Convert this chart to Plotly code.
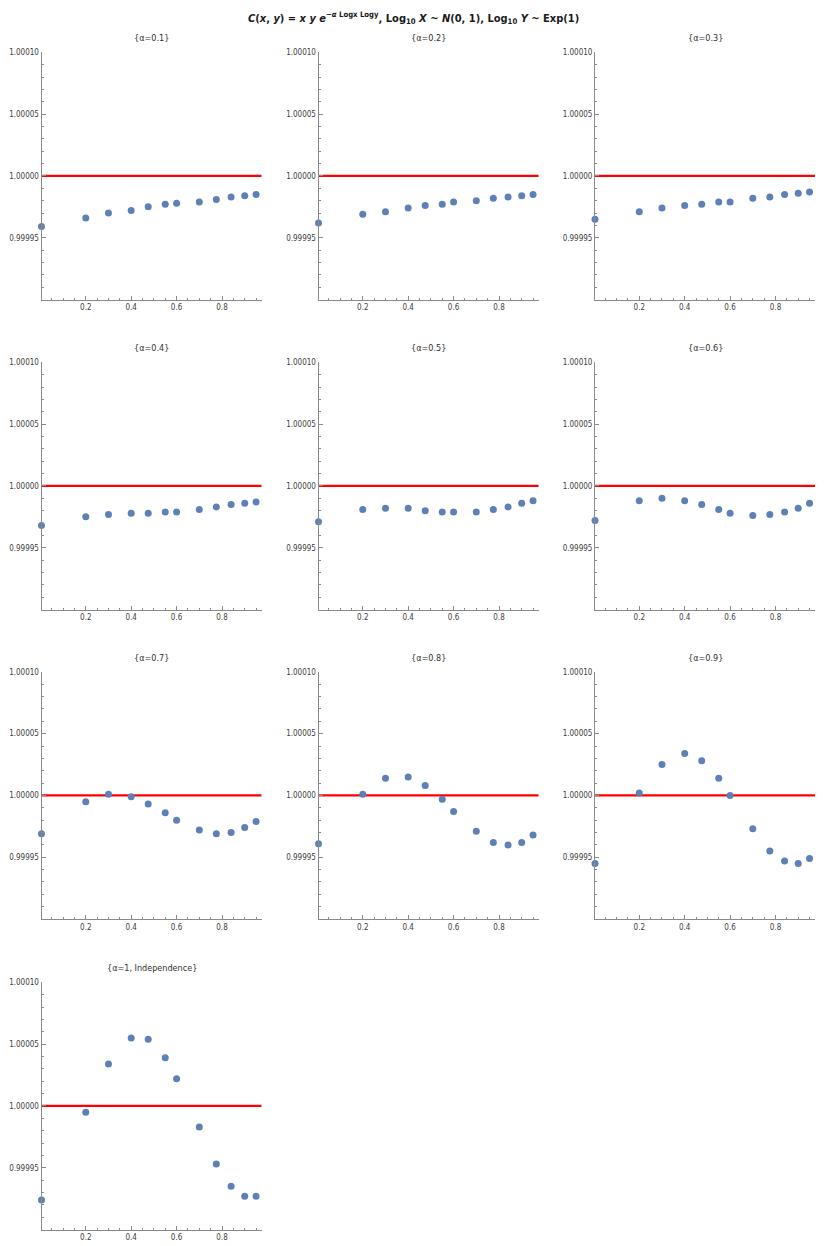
import plotly.graph_objects as go

# ---- data ----
x_levels = [0.005, 0.2, 0.3, 0.4, 0.475, 0.55, 0.6, 0.7, 0.775, 0.84, 0.9, 0.95]

panel_titles = ["{α=0.1}", "{α=0.2}", "{α=0.3}",
                "{α=0.4}", "{α=0.5}", "{α=0.6}",
                "{α=0.7}", "{α=0.8}", "{α=0.9}",
                "{α=1, Independence}"]

c_a01 = [0.999959, 0.999966, 0.999970, 0.999972, 0.999975, 0.999977, 0.999978, 0.999979, 0.999981, 0.999983, 0.999984, 0.999985]
c_a02 = [0.999962, 0.999969, 0.999971, 0.999974, 0.999976, 0.999977, 0.999979, 0.999980, 0.999982, 0.999983, 0.999984, 0.999985]
c_a03 = [0.999965, 0.999971, 0.999974, 0.999976, 0.999977, 0.999979, 0.999979, 0.999982, 0.999983, 0.999985, 0.999986, 0.999987]
c_a04 = [0.999968, 0.999975, 0.999977, 0.999978, 0.999978, 0.999979, 0.999979, 0.999981, 0.999983, 0.999985, 0.999986, 0.999987]
c_a05 = [0.999971, 0.999981, 0.999982, 0.999982, 0.999980, 0.999979, 0.999979, 0.999979, 0.999981, 0.999983, 0.999986, 0.999988]
c_a06 = [0.999972, 0.999988, 0.999990, 0.999988, 0.999985, 0.999981, 0.999978, 0.999976, 0.999977, 0.999979, 0.999982, 0.999986]
c_a07 = [0.999969, 0.999995, 1.000001, 0.999999, 0.999993, 0.999986, 0.999980, 0.999972, 0.999969, 0.999970, 0.999974, 0.999979]
c_a08 = [0.999961, 1.000001, 1.000014, 1.000015, 1.000008, 0.999997, 0.999987, 0.999971, 0.999962, 0.999960, 0.999962, 0.999968]
c_a09 = [0.999945, 1.000002, 1.000025, 1.000034, 1.000028, 1.000014, 1.000000, 0.999973, 0.999955, 0.999947, 0.999945, 0.999949]
c_a10 = [0.999924, 0.999995, 1.000034, 1.000055, 1.000054, 1.000039, 1.000022, 0.999983, 0.999953, 0.999935, 0.999927, 0.999927]

series = [c_a01, c_a02, c_a03, c_a04, c_a05, c_a06, c_a07, c_a08, c_a09, c_a10]

y_tickvals = [0.99995, 1.0, 1.00005, 1.0001]
y_ticktext = ["0.99995", "1.00000", "1.00005", "1.00010"]
x_tickvals = [0.2, 0.4, 0.6, 0.8]
x_ticktext = ["0.2", "0.4", "0.6", "0.8"]
reference_level = 1.0

# ---- layout geometry (pixels) ----
W, H = 830, 1246
col_left = [41.5, 318.5, 595.0]
plot_w = 220.0
row_top = [48.5, 359.5, 670.0, 981.5]
plot_h = 248.0

FONT = "Liberation Sans Narrow, Arial Narrow, DejaVu Sans Condensed, sans-serif"
AX_COLOR = "#8a8a8a"
LBL_COLOR = "#404040"

fig = go.Figure()
annotations = []
shapes = []
layout_axes = {}

for i, (ttl, vals) in enumerate(zip(panel_titles, series)):
    r, c = divmod(i, 3)
    n = i + 1
    xa = "x" if n == 1 else f"x{n}"
    ya = "y" if n == 1 else f"y{n}"
    xkey = "xaxis" if n == 1 else f"xaxis{n}"
    ykey = "yaxis" if n == 1 else f"yaxis{n}"

    x0 = col_left[c] / W
    x1 = (col_left[c] + plot_w) / W
    y1 = 1 - row_top[r] / H
    y0 = 1 - (row_top[r] + plot_h) / H

    fig.add_trace(go.Scatter(
        x=x_levels, y=vals, mode="markers",
        marker=dict(color="#5E81B5", size=7, line=dict(width=0)),
        xaxis=xa, yaxis=ya, cliponaxis=False, showlegend=False,
        hoverinfo="x+y"))

    layout_axes[xkey] = dict(
        domain=[x0, x1], anchor=ya, range=[0.005, 0.974],
        tickvals=x_tickvals, ticktext=x_ticktext,
        ticks="inside", ticklen=4, tickwidth=1, tickcolor=AX_COLOR,
        minor=dict(ticks="inside", ticklen=2, tickwidth=1, tickcolor=AX_COLOR,
                   tick0=0, dtick=0.05),
        showline=True, linecolor=AX_COLOR, linewidth=1, mirror=False,
        showgrid=False, zeroline=False,
        tickfont=dict(family=FONT, size=8, color=LBL_COLOR),
        fixedrange=True)
    layout_axes[ykey] = dict(
        domain=[y0, y1], anchor=xa, range=[0.9999, 1.0001],
        tickvals=y_tickvals, ticktext=y_ticktext,
        ticks="inside", ticklen=4, tickwidth=1, tickcolor=AX_COLOR,
        minor=dict(ticks="inside", ticklen=2, tickwidth=1, tickcolor=AX_COLOR,
                   tick0=0.9999, dtick=0.00001),
        showline=True, linecolor=AX_COLOR, linewidth=1, mirror=False,
        showgrid=False, zeroline=False,
        tickfont=dict(family=FONT, size=8, color=LBL_COLOR),
        fixedrange=True)

    shapes.append(dict(type="line", xref=f"{xa} domain", yref=ya,
                       x0=0, x1=1, y0=reference_level, y1=reference_level,
                       line=dict(color="#FF0000", width=2.2), layer="below"))

    annotations.append(dict(
        text=ttl, xref="paper", yref="paper",
        x=(col_left[c] + plot_w / 2) / W, y=1 - (row_top[r] - 14) / H,
        xanchor="center", yanchor="middle", showarrow=False,
        font=dict(family=FONT, size=9, color="#303030")))

annotations.append(dict(
    text="<b><i>C</i>(<i>x</i>, <i>y</i>) = <i>x</i> <i>y</i> <i>e</i><sup>−<i>α</i> Logx Logy</sup>, "
         "Log<sub>10</sub> <i>X</i> ~ <i>N</i>(0, 1), Log<sub>10</sub> <i>Y</i> ~ Exp(1)</b>",
    xref="paper", yref="paper", x=413 / W, y=1 - 14 / H,
    xanchor="center", yanchor="middle", showarrow=False,
    font=dict(family=FONT, size=11, color="#1a1a1a")))

fig.update_layout(
    width=W, height=H,
    margin=dict(l=0, r=0, t=0, b=0),
    paper_bgcolor="white", plot_bgcolor="white",
    annotations=annotations, shapes=shapes,
    showlegend=False,
    **layout_axes)

fig.write_html("out.html",
               config={"displayModeBar": False},
               post_script="document.body.style.margin='0';document.body.style.padding='0';")
